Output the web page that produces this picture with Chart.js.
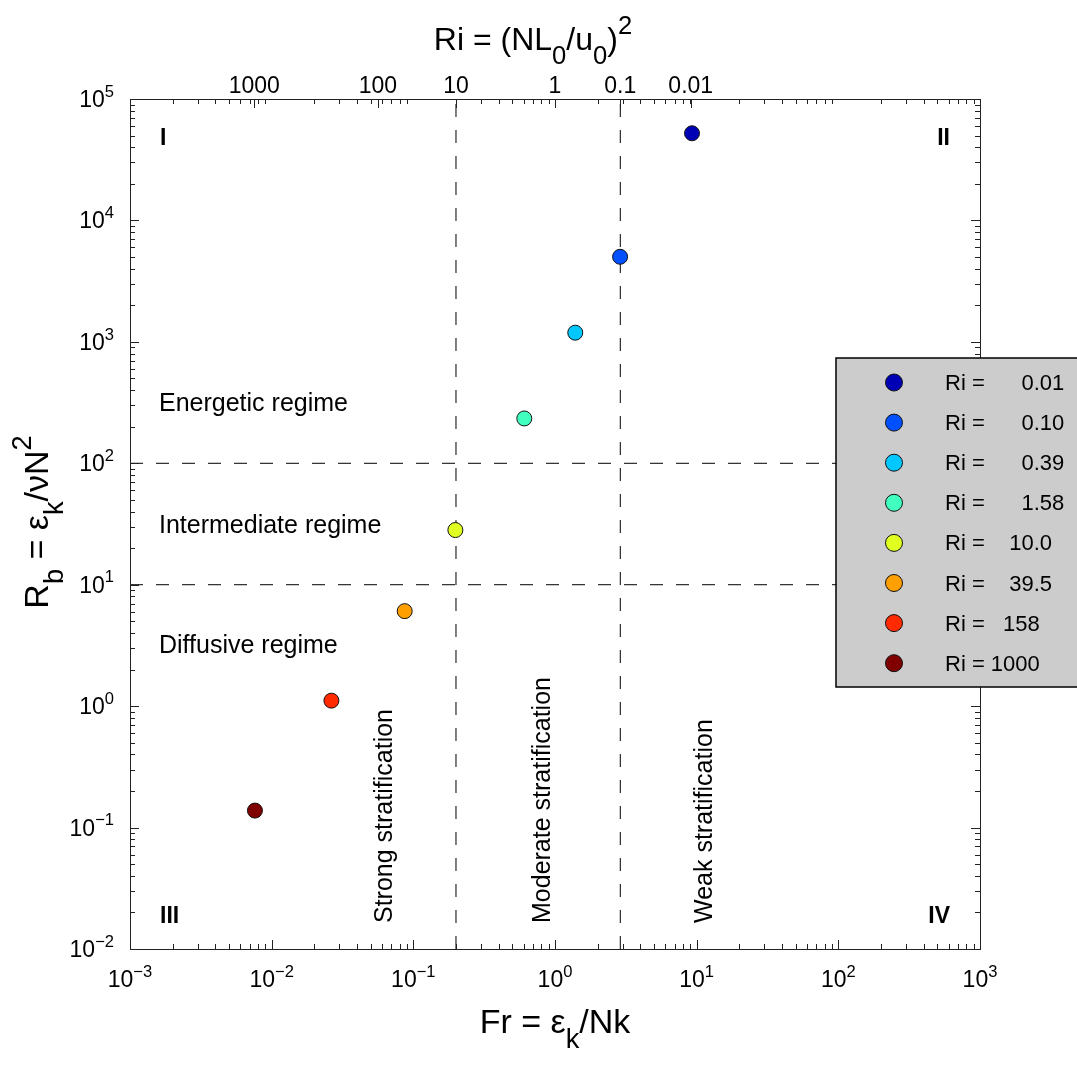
<!DOCTYPE html>
<html>
<head>
<meta charset="utf-8">
<script src="https://cdn.jsdelivr.net/npm/chart.js@4.4.1/dist/chart.umd.min.js"></script>
<style>
  html, body { margin: 0; padding: 0; background: #fff; }
</style>
</head>
<body>
<canvas id="regimeChart" width="1077" height="1066"></canvas>
<script>
// Ri runs, one point each: Fr = eps_k/Nk, Rb = eps_k/(nu N^2)
const riText = ['0.01', '0.10', '0.39', '1.58', '10.0', '39.5', '158', '1000'];
const frValues = [9.27, 2.88, 1.39, 0.607, 0.198, 0.0869, 0.0264, 0.00762];
const rbValues = [52200, 5020, 1190, 234, 28.2, 6.06, 1.11, 0.138];
const pointColors = ['#0000b4', '#0050ff', '#00c8ff', '#40ffbf', '#e0ff20', '#ffa000', '#ff2a00', '#800000'];
const legendText = ['Ri =      0.01', 'Ri =      0.10', 'Ri =      0.39', 'Ri =      1.58',
                    'Ri =    10.0', 'Ri =    39.5', 'Ri =   158', 'Ri = 1000'];

// axes
const xExponents = ['-3', '-2', '-1', '0', '1', '2', '3'];
const yExponents = ['-2', '-1', '0', '1', '2', '3', '4', '5'];
const riTickText = ['1000', '100', '10', '1', '0.1', '0.01'];
const riTickFr = [0.00754, 0.0562, 0.2, 1.0, 2.89, 9.08];

// regime boundaries
const rbBounds = [100, 10];
const frBounds = [0.2, 2.89];
const regimeText = ['Energetic regime', 'Intermediate regime', 'Diffusive regime'];
const stratText = ['Strong stratification', 'Moderate stratification', 'Weak stratification'];
const quadText = ['I', 'II', 'III', 'IV'];

const FONT = '"Liberation Sans", Arial, Helvetica, sans-serif';
const INK = '#222';

function rich(ctx, parts, x, y, size, align, sc, up) {
    sc = sc || 0.8;
    up = up || 0.5;
    let w = 0;
    parts.forEach(p => {
        ctx.font = (p[1] ? size * sc : size) + 'px ' + FONT;
        w += ctx.measureText(p[0]).width;
    });
    let cx = align === 'center' ? x - w / 2 : (align === 'right' ? x - w : x);
    ctx.textAlign = 'left';
    ctx.textBaseline = 'alphabetic';
    parts.forEach(p => {
        ctx.font = (p[1] ? size * sc : size) + 'px ' + FONT;
        let dy = 0;
        if (p[1] === 'sub') dy = size * 0.45;
        if (p[1] === 'sup') dy = -size * up;
        ctx.fillText(p[0], cx, y + dy);
        cx += ctx.measureText(p[0]).width;
    });
}

const decorPlugin = {
    id: 'decor',
    afterDraw(chart) {
        const ctx = chart.ctx;
        const ca = chart.chartArea;
        const xs = chart.scales.x;
        const ys = chart.scales.y;
        ctx.save();
        ctx.fillStyle = '#000';
        ctx.strokeStyle = INK;
        ctx.lineWidth = 1;

        // frame
        ctx.strokeRect(Math.round(ca.left) + 0.5, Math.round(ca.top) + 0.5,
                       Math.round(ca.right - ca.left), Math.round(ca.bottom - ca.top));

        // inward ticks
        ctx.beginPath();
        for (let d = -3; d <= 3; d++) {
            for (let m = 1; m < 10; m++) {
                if (d === 3 && m > 1) break;
                const px = Math.round(xs.getPixelForValue(m * Math.pow(10, d))) + 0.5;
                const len = m === 1 ? 9 : 5;
                ctx.moveTo(px, ca.bottom); ctx.lineTo(px, ca.bottom - len);
                if (m > 1) { ctx.moveTo(px, ca.top); ctx.lineTo(px, ca.top + 5); }
            }
        }
        for (let d = -2; d <= 5; d++) {
            for (let m = 1; m < 10; m++) {
                if (d === 5 && m > 1) break;
                const py = Math.round(ys.getPixelForValue(m * Math.pow(10, d))) + 0.5;
                const len = m === 1 ? 9 : 5;
                ctx.moveTo(ca.left, py); ctx.lineTo(ca.left + len, py);
                ctx.moveTo(ca.right, py); ctx.lineTo(ca.right - len, py);
            }
        }
        riTickFr.forEach(v => {
            const px = Math.round(xs.getPixelForValue(v)) + 0.5;
            ctx.moveTo(px, ca.top); ctx.lineTo(px, ca.top + 9);
        });
        ctx.stroke();

        // tick labels
        xExponents.forEach(e => {
            const px = xs.getPixelForValue(Math.pow(10, +e));
            rich(ctx, [['10', ''], [e.replace('-', '\u2212'), 'sup']], px, ca.bottom + 38, 23, 'center', 0.72, 0.45);
        });
        yExponents.forEach(e => {
            const py = ys.getPixelForValue(Math.pow(10, +e));
            rich(ctx, [['10', ''], [e.replace('-', '\u2212'), 'sup']], ca.left - 16, py + 8, 23, 'right', 0.72, 0.45);
        });
        ctx.font = '23px ' + FONT;
        ctx.textAlign = 'center';
        ctx.textBaseline = 'alphabetic';
        riTickText.forEach((t, i) => {
            ctx.fillText(t, xs.getPixelForValue(riTickFr[i]), ca.top - 6);
        });

        // axis titles
        rich(ctx, [['Fr = \u03b5', ''], ['k', 'sub'], ['/Nk', '']], (ca.left + ca.right) / 2, ca.bottom + 84, 34, 'center');
        rich(ctx, [['Ri = (NL', ''], ['0', 'sub'], ['/u', ''], ['0', 'sub'], [')', ''], ['2', 'sup']],
             (ca.left + ca.right) / 2 - 22, 50, 32, 'center');
        ctx.save();
        ctx.translate(48, (ca.top + ca.bottom) / 2 - 2);
        ctx.rotate(-Math.PI / 2);
        rich(ctx, [['R', ''], ['b', 'sub'], [' = \u03b5', ''], ['k', 'sub'], ['/\u03bdN', ''], ['2', 'sup']], 0, 0, 34, 'center');
        ctx.restore();

        // quadrant numerals
        ctx.font = 'bold 23px ' + FONT;
        ctx.textAlign = 'left';
        ctx.fillText(quadText[0], ca.left + 30, ca.top + 46);
        ctx.fillText(quadText[2], ca.left + 30, ca.bottom - 26);
        ctx.textAlign = 'right';
        ctx.fillText(quadText[1], ca.right - 30, ca.top + 46);
        ctx.fillText(quadText[3], ca.right - 30, ca.bottom - 26);

        // regime labels
        ctx.font = '25px ' + FONT;
        ctx.textAlign = 'left';
        [270, 26.8, 2.72].forEach((rb, i) => {
            ctx.fillText(regimeText[i], ca.left + 29, ys.getPixelForValue(rb));
        });
        [0.0706, 0.923, 12.8].forEach((fr, i) => {
            ctx.save();
            ctx.translate(xs.getPixelForValue(fr), ca.bottom - 26);
            ctx.rotate(-Math.PI / 2);
            ctx.fillText(stratText[i], 0, 0);
            ctx.restore();
        });

        // legend box
        const lx = 836, ly = 358, lh = 329;
        ctx.fillStyle = '#cccccc';
        ctx.fillRect(lx, ly, chart.width - lx + 10, lh);
        ctx.strokeStyle = '#000';
        ctx.lineWidth = 1.5;
        ctx.strokeRect(lx, ly, chart.width - lx + 10, lh);
        ctx.lineWidth = 1;
        legendText.forEach((t, i) => {
            const cy = ly + 24.5 + i * 40.1;
            ctx.beginPath();
            ctx.arc(lx + 58, cy, 8.5, 0, Math.PI * 2);
            ctx.fillStyle = pointColors[i];
            ctx.fill();
            ctx.strokeStyle = '#111';
            ctx.stroke();
            ctx.fillStyle = '#000';
            ctx.font = '22px ' + FONT;
            ctx.textAlign = 'left';
            ctx.fillText(t, lx + 109, cy + 7.5);
        });
        ctx.restore();
    }
};

const dashed = {
    showLine: true,
    pointRadius: 0,
    borderColor: '#000',
    borderWidth: 1,
    borderDash: [13, 13],
    order: 1
};

new Chart(document.getElementById('regimeChart'), {
    type: 'scatter',
    data: {
        datasets: [
            {
                label: 'Ri',
                data: frValues.map((f, i) => ({ x: f, y: rbValues[i] })),
                pointRadius: 7.5,
                pointBorderWidth: 1,
                pointBorderColor: '#111',
                pointBackgroundColor: pointColors,
                order: 0
            },
            ...rbBounds.map(v => Object.assign({ data: [{ x: 1e-3, y: v }, { x: 1e3, y: v }] }, dashed)),
            ...frBounds.map(v => Object.assign({ data: [{ x: v, y: 1e-2 }, { x: v, y: 1e5 }] }, dashed))
        ]
    },
    options: {
        responsive: false,
        animation: false,
        events: [],
        layout: { padding: { left: 130, right: 97, top: 99, bottom: 117 } },
        scales: {
            x: { type: 'logarithmic', min: 1e-3, max: 1e3, display: false },
            y: { type: 'logarithmic', min: 1e-2, max: 1e5, display: false }
        },
        plugins: {
            legend: { display: false },
            tooltip: { enabled: false }
        }
    },
    plugins: [decorPlugin]
});
</script>
</body>
</html>
